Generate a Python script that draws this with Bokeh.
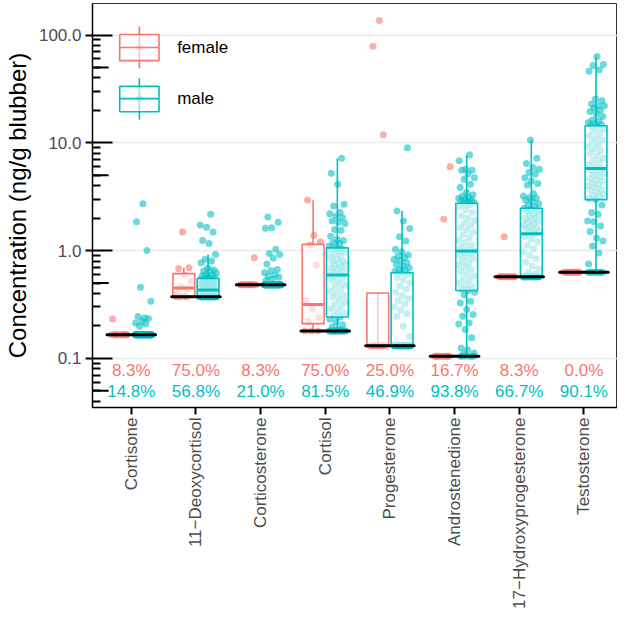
import math
import numpy as np
from bokeh.plotting import figure
from bokeh.models import Range1d, FixedTicker, NumeralTickFormatter, ColumnDataSource
from bokeh.core.properties import value
from bokeh.embed import file_html
from bokeh.resources import INLINE

# ---------------- data ----------------
compounds = ["Cortisone", "11\u2212Deoxycortisol", "Corticosterone", "Cortisol",
             "Progesterone", "Androstenedione", "17\u2212Hydroxyprogesterone", "Testosterone"]
lod = [0.166, 0.372, 0.481, 0.1795, 0.131, 0.1044, 0.571, 0.631]
n_female = 12
n_male = 81
pct_female = ["8.3%", "75.0%", "8.3%", "75.0%", "25.0%", "16.7%", "8.3%", "0.0%"]
pct_male = ["14.8%", "56.8%", "21.0%", "81.5%", "46.9%", "93.8%", "66.7%", "90.1%"]

# detected values (above detection limit); remaining samples sit at the detection limit
female_cortisone = [0.232]
male_cortisone = [2.72, 1.85, 1.0, 0.457, 0.339, 0.237, 0.244, 0.234, 0.221, 0.213, 0.210, 0.199]

female_deoxycortisol = [0.38, 0.40, 0.44, 0.46, 0.52, 0.59, 0.677, 0.692, 1.49]
male_deoxycortisol = [0.38, 0.39, 0.40, 0.41, 0.42, 0.43,
                      0.434, 0.441, 0.446, 0.452, 0.458, 0.463, 0.47, 0.474, 0.481, 0.487,
                      0.49, 0.497, 0.503, 0.51, 0.516, 0.523, 0.531, 0.538, 0.546, 0.551,
                      0.56, 0.57, 0.58, 0.59, 0.60, 0.62, 0.645, 0.645, 0.66, 0.69,
                      0.77, 0.80, 0.83, 0.92, 1.16, 1.24, 1.49, 1.65, 1.73, 2.17]

female_corticosterone = [0.857]
male_corticosterone = [2.05, 1.83, 1.63, 1.61, 1.03, 0.94, 0.92, 0.85, 0.75, 0.668, 0.654,
                       0.622, 0.592, 0.579, 0.567, 0.54, 0.528]

female_cortisol = [0.221, 0.24, 0.29, 0.345, 0.73, 1.12, 1.21, 1.39, 2.93]
male_cortisol = [0.185, 0.195, 0.205, 0.218, 0.23, 0.242,
                 0.25, 0.262, 0.275, 0.29, 0.305, 0.32, 0.335, 0.35, 0.37, 0.385, 0.40,
                 0.42, 0.44, 0.46, 0.48, 0.505, 0.53, 0.55, 0.575, 0.592,
                 0.61, 0.63, 0.65, 0.67, 0.69, 0.71, 0.73, 0.75, 0.77, 0.79, 0.81, 0.84,
                 0.87, 0.9, 0.93, 0.96, 0.99, 1.01, 1.04, 1.06,
                 1.10, 1.16, 1.18, 1.24, 1.27, 1.36, 1.54, 1.57, 1.78, 1.84, 1.88, 2.02,
                 2.09, 2.2, 2.25, 2.59, 2.69, 4.13, 5.23, 7.2]

female_progesterone = [136.0, 78.7, 11.9]
male_progesterone = [0.16, 0.2, 0.245, 0.26, 0.28, 0.3, 0.32, 0.34, 0.36, 0.38, 0.41, 0.44,
                     0.47, 0.5, 0.53, 0.56, 0.6, 0.622,
                     0.64, 0.654, 0.668, 0.692, 0.718, 0.744, 0.77, 0.811, 0.828, 0.857,
                     0.889, 0.908, 0.975, 1.03, 1.23, 1.34, 1.6, 1.88, 2.33, 8.98]

female_androstenedione = [5.98, 1.95]
male_androstenedione = [0.11, 0.112, 0.12, 0.125, 0.155, 0.185, 0.208, 0.213, 0.246, 0.255,
                        0.284, 0.327, 0.339, 0.39, 0.41, 0.426,
                        0.44, 0.46, 0.48, 0.5, 0.53, 0.55, 0.58, 0.61, 0.64, 0.67, 0.7,
                        0.73, 0.76, 0.8, 0.84, 0.87, 0.91, 0.94, 0.97, 0.99,
                        1.03, 1.08, 1.13, 1.19, 1.25, 1.32, 1.4, 1.48, 1.56, 1.64, 1.72,
                        1.8, 1.9, 2.0, 2.1, 2.25, 2.4, 2.55, 2.68, 2.75,
                        2.8, 2.85, 2.9, 2.95, 3.0, 3.05, 3.1, 3.21, 3.3, 3.45, 3.84, 4.13,
                        4.59, 4.75, 5.12, 5.57, 5.57, 5.69, 6.8, 7.73]

female_ohp = [1.34]
male_ohp = [0.6, 0.63, 0.67, 0.72, 0.78, 0.84, 0.9, 0.97, 1.04, 1.12, 1.2, 1.28, 1.36, 1.43,
            1.47, 1.51, 1.55, 1.6, 1.64, 1.68, 1.73, 1.78, 1.83, 1.88, 1.93, 1.98, 2.04,
            2.1, 2.16, 2.22, 2.29, 2.35, 2.42, 2.47,
            2.55, 2.65, 2.72, 2.89, 2.93, 3.06, 3.1, 3.21, 3.37, 4.06, 4.19, 4.43, 4.75,
            5.12, 5.3, 5.69, 5.89, 6.42, 7.2, 10.6]

female_testosterone = []
male_testosterone = [0.75, 0.95, 1.1, 1.23, 1.31, 1.5, 1.69, 1.85, 1.88, 2.17, 2.25, 2.65, 2.97,
                     3.05, 3.15, 3.25, 3.35, 3.45, 3.6, 3.7, 3.85, 4.0, 4.1, 4.25, 4.4, 4.55,
                     4.7, 4.85, 5.0, 5.2, 5.4, 5.6, 5.77,
                     6.0, 6.3, 6.6, 6.9, 7.2, 7.6, 8.0, 8.4, 8.8, 9.2, 9.6, 10.1, 10.6, 11.1,
                     11.6, 12.2, 12.8, 13.4, 14.0, 14.4,
                     14.8, 15.0, 15.4, 16.0, 16.3, 17.5, 18.5, 19.5, 19.9, 21.0, 22.1, 22.1,
                     22.9, 24.6, 25.5, 46.0, 47.5, 52.0, 53.2, 63.1]

female_detected = [female_cortisone, female_deoxycortisol, female_corticosterone, female_cortisol,
                   female_progesterone, female_androstenedione, female_ohp, female_testosterone]
male_detected = [male_cortisone, male_deoxycortisol, male_corticosterone, male_cortisol,
                 male_progesterone, male_androstenedione, male_ohp, male_testosterone]

# ---------------- style ----------------
FEMALE = "#F8766D"
MALE = "#00BFC4"
FONT = "Liberation Sans"
DODGE = 0.1875
BOX_W = 0.3375
JIT = 0.13

p = figure(width=617, height=611, x_range=Range1d(0.4, 8.52), y_range=Range1d(0.035, 196),
           y_axis_type="log", output_backend="svg", toolbar_location=None,
           min_border_left=0, min_border_right=0, min_border_top=3, min_border_bottom=0)
p.background_fill_color = "white"
p.border_fill_color = "white"
p.outline_line_color = "#333333"
p.outline_line_width = 1

# y axis
minor = [m * 10.0 ** k for k in range(-2, 3) for m in range(2, 10)]
p.yaxis.ticker = FixedTicker(ticks=[0.1, 1, 10, 100], minor_ticks=minor)
p.yaxis.formatter = NumeralTickFormatter(format="0.0")
p.yaxis.major_tick_in = 20
p.yaxis.major_tick_out = 7
p.yaxis.minor_tick_in = 8
p.yaxis.minor_tick_out = 0
p.yaxis.major_tick_line_width = 2
p.yaxis.minor_tick_line_width = 2
p.yaxis.major_tick_line_color = "black"
p.yaxis.minor_tick_line_color = "black"
p.yaxis.axis_label = "Concentration (ng/g blubber)"
p.yaxis.axis_label_text_font = FONT
p.yaxis.axis_label_text_font_size = "24px"
p.yaxis.axis_label_text_font_style = "normal"
p.yaxis.axis_label_text_color = "black"
p.yaxis.axis_label_standoff = 5
p.yaxis.major_label_standoff = 4

# x axis
p.xaxis.ticker = FixedTicker(ticks=list(range(1, len(compounds) + 1)))
p.xaxis.major_label_overrides = {i + 1: c for i, c in enumerate(compounds)}
p.xaxis.major_label_orientation = math.pi / 2
p.xaxis.major_tick_in = 0
p.xaxis.major_tick_out = 7
p.xaxis.major_tick_line_width = 2
p.xaxis.major_tick_line_color = "black"
p.xaxis.minor_tick_line_color = None
p.xaxis.major_label_standoff = 3

for ax in (p.xaxis, p.yaxis):
    ax.axis_line_color = "black"
    ax.axis_line_width = 1.5
    ax.major_label_text_font = FONT
    ax.major_label_text_font_size = "17px"
    ax.major_label_text_color = "#4D4D4D"

p.xgrid.visible = False
p.ygrid.grid_line_color = "#EBEBEB"
p.ygrid.grid_line_width = 1.5
p.ygrid.minor_grid_line_color = None

# longer log ticks at 5 x 10^k
mids = [0.05, 0.5, 5, 50]
p.segment(x0=[p.x_range.start] * 4, x1=[p.x_range.start + 0.25] * 4, y0=mids, y1=mids,
          line_color="black", line_width=2)


def box_stats(vals):
    lv = np.log10(np.asarray(vals, dtype=float))
    q1, med, q3 = np.percentile(lv, [25, 50, 75])
    iqr = q3 - q1
    hi = lv[lv <= q3 + 1.5 * iqr + 1e-12].max()
    lo = lv[lv >= q1 - 1.5 * iqr - 1e-12].min()
    return 10 ** q1, 10 ** med, 10 ** q3, 10 ** lo, 10 ** hi


groups = [(female_detected, n_female, -DODGE, FEMALE, 0.11),
          (male_detected, n_male, DODGE, MALE, 0.47)]

# jittered points
for detected, n, off, color, phase in groups:
    xs, ys = [], []
    for i, det in enumerate(detected):
        vals = list(det) + [lod[i]] * (n - len(det))
        k = np.arange(len(vals))
        jit = ((k * 0.6180339887 + phase + 0.37 * i) % 1.0 - 0.5) * 2 * JIT
        xs.extend(list(i + 1 + off + jit))
        ys.extend(vals)
    p.scatter(x=xs, y=ys, size=7, fill_color=color, fill_alpha=0.58, line_color=None)

# boxplots
for detected, n, off, color, phase in groups:
    src = dict(x=[], q1=[], med=[], q3=[], lo=[], hi=[], l=[], r=[])
    for i, det in enumerate(detected):
        vals = list(det) + [lod[i]] * (n - len(det))
        q1, med, q3, lo, hi = box_stats(vals)
        cx = i + 1 + off
        src["x"].append(cx)
        src["q1"].append(q1)
        src["med"].append(med)
        src["q3"].append(q3)
        src["lo"].append(lo)
        src["hi"].append(hi)
        src["l"].append(cx - BOX_W / 2)
        src["r"].append(cx + BOX_W / 2)
    s = ColumnDataSource(src)
    p.segment(x0="x", x1="x", y0="q3", y1="hi", source=s, line_color=color, line_width=1.6)
    p.segment(x0="x", x1="x", y0="q1", y1="lo", source=s, line_color=color, line_width=1.6)
    p.vbar(x="x", width=BOX_W, bottom="q1", top="q3", source=s, fill_color="white",
           fill_alpha=0.6, line_color=color, line_width=1.6)
    p.segment(x0="l", x1="r", y0="med", y1="med", source=s, line_color=color, line_width=3)

# detection limits
cats = np.arange(1, len(compounds) + 1)
p.segment(x0=list(cats - 0.375), x1=list(cats + 0.375), y0=lod, y1=lod,
          line_color="black", line_width=3, line_cap="round")

# percentage labels
p.text(x=list(cats), y=[0.0774] * len(cats), text=pct_female, text_color=FEMALE,
       text_font=value(FONT), text_font_size="17px", text_align="center", text_baseline="middle")
p.text(x=list(cats), y=[0.0494] * len(cats), text=pct_male, text_color=MALE,
       text_font=value(FONT), text_font_size="17px", text_align="center", text_baseline="middle")

# legend (drawn as boxplot keys)
LX = 1.125
LHW = 0.304
legend_keys = [("female", FEMALE, 57.9, 101.0, 76.5, 48.8, 120.0),
               ("male", MALE, 19.4, 33.4, 25.7, 16.4, 39.6)]
for label, color, b, t, m, wl, wh in legend_keys:
    p.segment(x0=[LX], x1=[LX], y0=[wl], y1=[wh], line_color=color, line_width=1.6)
    p.scatter(x=[LX], y=[m], size=7, fill_color=color, fill_alpha=0.55, line_color=None)
    p.quad(left=[LX - LHW], right=[LX + LHW], bottom=[b], top=[t], fill_color="white",
           fill_alpha=0.6, line_color=color, line_width=1.6)
    p.segment(x0=[LX - LHW], x1=[LX + LHW], y0=[m], y1=[m], line_color=color, line_width=1.6)
    p.text(x=[1.709], y=[m], text=[label], text_color="black", text_font=value(FONT),
           text_font_size="17px", text_align="left", text_baseline="middle")

open("out.html", "w").write(file_html(p, INLINE))
